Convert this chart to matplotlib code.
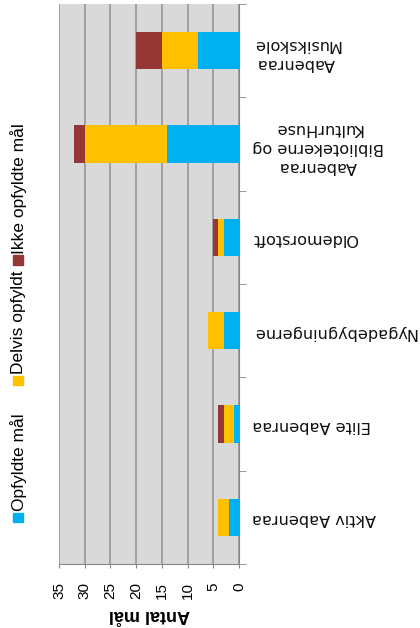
import matplotlib
matplotlib.use("Agg")
import matplotlib.pyplot as plt
from matplotlib.patches import Rectangle
import numpy as np

plt.rcParams['font.family'] = ['Liberation Sans', 'DejaVu Sans']

categories = ['Aktiv Aabenraa', 'Elite Aabenraa', 'Nygadebygningerne', 'Oldemorstoft',
              'Aabenraa\nBibliotekerne og\nKulturHuse', 'Aabenraa\nMusikskole']
opfyldt = [2, 1, 3, 3, 14, 8]
delvis = [2, 2, 3, 1, 16, 7]
ikke = [0, 1, 0, 1, 2, 5]
series_names = ['Opfyldte mål', 'Delvis opfyldt', 'Ikke opfyldte mål']
colors = ['#00B0F0', '#FFC000', '#953735']
xticks = [0, 5, 10, 15, 20, 25, 30, 35]

W, H = 420, 628
fig = plt.figure(figsize=(W / 100, H / 100), dpi=100)
ax = fig.add_axes([59 / W, 1 - 564 / H, 180 / W, 560 / H])
ax.set_facecolor('#D9D9D9')

y = np.arange(len(categories))
left = np.zeros(len(categories))
for vals, name, c in zip([opfyldt, delvis, ikke], series_names, colors):
    ax.barh(y, vals, left=left, height=0.4, color=c, label=name, zorder=3)
    left += np.array(vals)

ax.set_xlim(35, 0)
ax.set_ylim(-0.5, len(categories) - 0.5)
ax.set_xticks(xticks)
ax.set_xticklabels([str(v) for v in xticks], rotation=90, fontsize=11)
ax.grid(axis='x', color='#9C9C9C', linewidth=1.3, zorder=1)
ax.tick_params(axis='x', length=3, color='#868686', pad=10)

ax.yaxis.tick_right()
ax.set_yticks(y)
ax.set_yticklabels(categories, rotation=180, multialignment='center', fontsize=11.6,
                   family='DejaVu Sans', linespacing=1.35)
ax.set_yticks(np.arange(-0.5, len(categories), 1), minor=True)
ax.tick_params(axis='y', which='major', length=0, pad=9.5, labelcolor='#111111')
ax.tick_params(axis='y', which='minor', length=5, color='#868686')

for s in ['top', 'left']:
    ax.spines[s].set_visible(False)
for s in ['bottom', 'right']:
    ax.spines[s].set_color('#868686')

ax.set_xlabel('Antal mål', rotation=180, fontweight='bold', fontsize=13, labelpad=5)

# legend, drawn vertically along the left edge
sq = 9
for name, c, yc in zip(series_names, colors, [517, 380, 260]):
    fig.patches.append(Rectangle(((18 - sq / 2) / W, 1 - (yc + sq / 2) / H), sq / W, sq / H,
                                 transform=fig.transFigure, color=c))
    fig.text(19 / W, 1 - (yc - 6) / H, name, rotation=90, ha='center', va='bottom', fontsize=12.5)

fig.savefig('out.png', dpi=100)
